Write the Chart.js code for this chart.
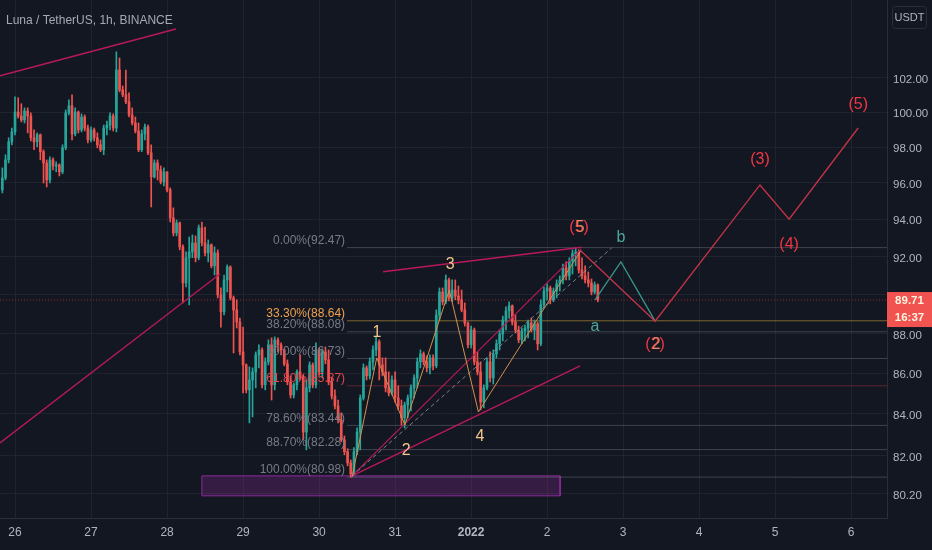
<!DOCTYPE html>
<html>
<head>
<meta charset="utf-8">
<script src="https://cdn.jsdelivr.net/npm/chart.js@4.4.0/dist/chart.umd.min.js"></script>
<style>
  html, body { margin: 0; background: #131722; }
  canvas { display: block; }
</style>
</head>
<body>
<canvas id="chart" width="932" height="550"></canvas>
<script>
// LUNA/USDT 1h candles, x = hours counted from 26 Dec 00:00
const FIRST_HOUR = -4;
const firstOpen = 95.61;

const closes = [
  96.27, 97.28, 98.30, 98.87, 100.01, 99.78, 99.55, 100.07, 99.78, 98.53,
  98.30, 98.70, 97.74, 97.11, 96.16, 97.28, 96.94, 97.00, 96.61, 97.96,
  99.96, 100.37, 98.75, 100.01, 98.98, 99.72, 99.09, 98.41, 98.98, 98.53,
  98.13, 97.85, 99.09, 99.26, 99.78, 99.09, 102.47, 101.30, 101.01, 100.60,
  99.84, 99.38, 98.92, 97.85, 98.75, 99.15, 97.68, 96.33, 97.11, 96.72,
  96.05, 96.61, 95.61, 94.07, 93.26, 93.80, 92.51, 90.60, 91.93, 92.24,
  92.72, 91.93, 93.53, 92.72, 92.19, 92.62, 91.50, 92.19, 89.98, 89.10,
  90.76, 91.44, 89.82, 89.20, 88.58, 87.06, 86.41, 85.17, 85.66, 86.06,
  86.91, 87.16, 85.42, 86.56, 87.42, 85.42, 87.67, 87.42, 87.16, 86.46,
  85.56, 84.92, 85.42, 86.06, 85.81, 83.12, 85.27, 86.41, 85.42, 87.16,
  86.06, 87.06, 86.66, 85.56, 84.87, 84.38, 83.71, 82.74, 82.18, 81.65,
  81.13, 82.18, 83.12, 84.77, 86.26, 85.86, 86.56, 87.16, 87.57, 86.41,
  86.06, 85.27, 85.02, 85.66, 84.77, 84.38, 83.81, 84.43, 84.77, 85.27,
  85.76, 86.56, 86.96, 86.56, 86.26, 86.76, 86.36, 88.94, 90.13, 89.62,
  90.76, 89.82, 90.23, 89.92, 89.72, 89.20, 88.53, 87.42, 88.17, 86.56,
  86.06, 84.57, 85.27, 86.56, 85.76, 86.96, 87.47, 87.97, 88.68, 89.15,
  89.41, 88.58, 88.17, 87.67, 88.12, 88.27, 88.53, 88.17, 88.48, 87.47,
  89.46, 90.18, 90.34, 89.72, 90.18, 90.55, 90.76, 91.39, 90.97, 91.76,
  92.14, 92.24, 91.28, 90.97, 90.76, 90.60, 90.13, 90.50, 89.71
];
const highs = [
  96.83, 97.57, 98.53, 99.09, 100.89, 100.84, 100.49, 100.25, 100.25, 99.96,
  98.98, 98.81, 98.75, 97.85, 97.28, 97.45, 97.39, 97.17, 97.06, 98.13,
  100.13, 100.72, 101.01, 100.25, 100.07, 99.90, 99.84, 99.26, 99.15, 99.09,
  98.81, 98.41, 99.26, 99.49, 99.96, 99.90, 103.55, 103.18, 101.53, 102.47,
  101.12, 100.25, 99.72, 99.38, 98.98, 99.32, 99.26, 98.13, 97.28, 97.28,
  96.94, 96.83, 96.61, 95.72, 94.62, 93.96, 93.85, 92.62, 92.24, 93.04,
  93.15, 93.10, 93.69, 93.85, 93.58, 92.88, 92.67, 92.51, 92.35, 90.34,
  91.02, 91.55, 91.50, 89.92, 89.72, 88.78, 88.32, 86.46, 86.31, 86.26,
  87.06, 87.42, 87.26, 86.76, 87.67, 87.77, 87.82, 87.77, 87.52, 87.21,
  86.66, 85.86, 85.51, 86.16, 86.91, 85.91, 85.66, 86.56, 86.51, 87.52,
  87.26, 87.21, 87.31, 87.16, 85.76, 85.17, 84.67, 84.05, 82.93, 82.32,
  81.79, 82.37, 83.32, 84.92, 86.46, 86.36, 86.76, 87.37, 87.82, 87.67,
  86.76, 86.76, 86.06, 85.86, 86.06, 85.37, 84.67, 84.57, 84.92, 85.42,
  85.91, 86.76, 87.16, 87.06, 86.86, 86.91, 86.91, 89.20, 90.34, 90.34,
  91.02, 90.86, 90.76, 90.76, 90.44, 90.23, 89.56, 88.58, 88.37, 88.27,
  87.06, 86.56, 85.42, 86.76, 87.06, 87.16, 87.67, 88.17, 88.88, 89.36,
  89.62, 89.46, 88.94, 88.37, 88.27, 88.42, 88.68, 88.78, 88.68, 88.58,
  89.72, 90.39, 90.55, 90.44, 90.34, 90.76, 90.97, 91.60, 91.71, 91.93,
  92.35, 92.47, 92.35, 91.93, 91.50, 91.18, 90.81, 90.65, 90.55
];
const lows = [
  95.44, 96.16, 97.11, 98.13, 98.70, 99.66, 99.44, 99.38, 98.81, 98.35,
  97.85, 98.02, 97.28, 95.99, 95.77, 95.99, 96.72, 96.61, 96.38, 96.50,
  97.85, 99.84, 98.41, 98.64, 98.81, 98.87, 98.92, 98.24, 98.30, 98.35,
  97.96, 97.74, 97.57, 98.70, 98.98, 98.92, 98.87, 101.18, 100.89, 100.49,
  99.72, 99.26, 98.81, 97.74, 97.74, 98.41, 97.57, 94.67, 96.27, 96.16,
  95.94, 95.83, 95.50, 93.85, 93.10, 93.10, 92.35, 89.56, 90.39, 89.46,
  91.93, 91.71, 91.82, 92.56, 92.03, 91.71, 91.39, 91.02, 89.82, 88.32,
  88.94, 90.13, 89.72, 87.01, 88.27, 86.91, 85.02, 85.02, 83.56, 83.85,
  85.27, 86.26, 85.27, 85.17, 86.41, 84.67, 85.17, 87.06, 86.91, 86.36,
  85.42, 84.77, 84.77, 85.17, 85.66, 82.74, 82.27, 85.07, 85.27, 85.27,
  85.91, 85.76, 86.46, 85.42, 84.72, 84.24, 83.56, 82.65, 82.04, 81.51,
  80.98, 81.04, 82.04, 82.27, 84.67, 85.66, 85.71, 86.16, 86.86, 85.66,
  85.86, 85.07, 84.87, 84.92, 84.57, 84.19, 83.46, 83.32, 83.81, 84.14,
  84.77, 85.27, 86.26, 86.41, 86.06, 85.96, 86.16, 86.26, 88.68, 89.46,
  89.51, 89.67, 89.62, 89.72, 89.51, 89.10, 88.37, 87.26, 87.26, 86.41,
  85.91, 84.19, 84.29, 85.17, 85.56, 85.46, 86.76, 87.16, 87.62, 88.17,
  88.78, 88.42, 88.02, 87.52, 87.47, 87.62, 87.77, 88.07, 87.67, 87.16,
  87.37, 89.30, 89.72, 89.51, 89.62, 89.82, 90.18, 90.55, 90.76, 90.76,
  91.07, 91.50, 91.12, 90.81, 90.60, 90.39, 89.98, 90.03, 89.62
];

// axes
const dayTicks = [0, 24, 48, 72, 96, 120, 144, 168, 192, 216, 240, 264];
const dayLabels = ['26', '27', '28', '29', '30', '31', '2022', '2', '3', '4', '5', '6'];
const priceTicks = [80.2, 82, 84, 86, 88, 90, 92, 94, 96, 98, 100, 102];
const lastPrice = 89.71;
const countdown = '16:37';

// fib retracement
const fibPcts = [0, 33.3, 38.2, 50, 61.8, 78.6, 88.7, 100];
const fibPrices = [92.47, 88.64, 88.08, 86.73, 85.37, 83.44, 82.28, 80.98];
const fibStartHour = 104.8;

// drawings (hour, price)
const waveHours = [106.4, 114.2, 123.1, 137.1, 146.3, 178.6];
const wavePrices = [80.98, 86.76, 83.46, 90.23, 84.09, 92.30];
const projHours = [178.6, 202.1, 235.2, 244.4, 266.2];
const projPrices = [92.30, 88.62, 95.88, 94.00, 99.09];
const abcHours = [183.1, 191.3, 202.1];
const abcPrices = [89.72, 91.71, 88.62];
const boxHours = [59.0, 172.1];
const boxPrices = [80.11, 81.04];

const waveLabels = [
  { text: '1', h: 114.3, p: 88.02, color: '#f2c58c' },
  { text: '2', h: 123.5, p: 82.22, color: '#f2c58c' },
  { text: '3', h: 137.4, p: 91.55, color: '#f2c58c' },
  { text: '4', h: 146.8, p: 82.88, color: '#f2c58c' },
  { text: '(5)', h: 178.1, p: 93.53, color: '#f23645', inner: '5' },
  { text: '(2)', h: 202.1, p: 87.41, color: '#f23645', inner: '2' },
  { text: '(3)', h: 235.2, p: 97.28, color: '#f23645' },
  { text: '(4)', h: 244.4, p: 92.62, color: '#f23645' },
  { text: '(5)', h: 266.2, p: 100.42, color: '#f23645' },
  { text: 'a', h: 183.1, p: 88.32, color: '#4ea69b' },
  { text: 'b', h: 191.3, p: 92.99, color: '#4ea69b' }
];

const X_MIN = -4.74, X_MAX = 275.3;
const Y_MIN = 79.09, Y_MAX = 106.70;
const UP = '#26a69a', DOWN = '#ef5350';
const FONT = "'Liberation Sans', Arial, sans-serif";

const hours = closes.map((_, i) => FIRST_HOUR + i);
const opens = closes.map((c, i) => i === 0 ? firstOpen : closes[i - 1]);
const candleColor = i => closes[i] >= opens[i] ? UP : DOWN;

function pts(hs, ps) { return hs.map((h, i) => ({ x: h, y: ps[i] })); }

function line(hs, ps, color, extra) {
  return Object.assign({
    type: 'line', data: pts(hs, ps), borderColor: color, borderWidth: 1,
    pointRadius: 0, fill: false, tension: 0, order: 1
  }, extra || {});
}

const fibColor = p => p === 33.3 ? 'rgba(212,170,60,0.55)' : p === 61.8 ? 'rgba(200,60,70,0.4)' : 'rgba(120,123,134,0.45)';
const fibTextColor = p => p === 33.3 ? '#f0a150' : p === 61.8 ? '#e5484f' : '#787b86';

const datasets = [
  // elliott waves and projections (on top)
  line(waveHours, wavePrices, '#d3904f'),
  line(projHours, projPrices, '#c8344a', { borderWidth: 1.3 }),
  line(abcHours, abcPrices, '#3a968a', { borderWidth: 1.3 }),
  line([waveHours[0], 188.4], [81.04, 92.46], 'rgba(149,152,161,0.8)', { borderDash: [4, 3] }),
  // trend lines
  line([-4.74, 50.8], [102.12, 104.93], '#b8195a', { borderWidth: 1.5 }),
  line([-4.74, 64.7], [82.60, 91.07], '#b8195a', { borderWidth: 1.3 }),
  line([116.2, 178.9], [91.19, 92.49], '#b8195a', { borderWidth: 1.5 }),
  line([106.4, 178.8], [81.04, 92.40], '#b8195a', { borderWidth: 1.2 }),
  line([106.4, 178.4], [81.04, 86.36], '#b8195a', { borderWidth: 1.5 }),
  // zone box
  line([boxHours[0], boxHours[1], boxHours[1], boxHours[0], boxHours[0]],
       [boxPrices[1], boxPrices[1], boxPrices[0], boxPrices[0], boxPrices[1]],
       '#8e2a9c', { order: 20 }),
  line(boxHours, [boxPrices[1], boxPrices[1]], 'rgba(0,0,0,0)',
       { fill: { value: boxPrices[0] }, backgroundColor: 'rgba(142,42,156,0.28)', order: 21 }),
  // last price line
  line([X_MIN, X_MAX], [lastPrice, lastPrice], 'rgba(242,54,69,0.55)', { borderDash: [1, 2], order: 12 }),
  // candles
  {
    type: 'bar', data: hours.map((h, i) => ({ x: h, y: [opens[i], closes[i]] })),
    backgroundColor: hours.map((_, i) => candleColor(i)),
    barThickness: 2, grouped: false, minBarLength: 1, order: 5
  },
  {
    type: 'bar', data: hours.map((h, i) => ({ x: h, y: [lows[i], highs[i]] })),
    backgroundColor: hours.map((_, i) => candleColor(i)),
    barThickness: 1, grouped: false, order: 6
  }
];

fibPcts.forEach((p, i) => {
  datasets.push(line([fibStartHour, X_MAX], [fibPrices[i], fibPrices[i]], fibColor(p), { order: 15 }));
});

const overlay = {
  id: 'overlay',
  afterDatasetsDraw(chart) {
    const { ctx, scales: { x, y } } = chart;
    ctx.save();
    ctx.textBaseline = 'middle';

    // fib labels
    ctx.font = '12px ' + FONT;
    ctx.textAlign = 'right';
    const lx = x.getPixelForValue(104.2);
    fibPcts.forEach((p, i) => {
      ctx.fillStyle = fibTextColor(p);
      ctx.fillText(p.toFixed(2) + '%(' + fibPrices[i].toFixed(2) + ')', lx, y.getPixelForValue(fibPrices[i]) - 7);
    });

    // wave labels
    ctx.textAlign = 'center';
    ctx.font = '16px ' + FONT;
    waveLabels.forEach(l => {
      const px = x.getPixelForValue(l.h), py = y.getPixelForValue(l.p);
      ctx.fillStyle = l.color;
      ctx.fillText(l.text, px, py);
      if (l.inner) {
        ctx.fillStyle = 'rgba(242,160,110,0.75)';
        ctx.fillText(l.inner, px + 1, py);
      }
    });
    ctx.restore();
  },
  afterDraw(chart) {
    const { ctx, scales: { y }, chartArea } = chart;
    ctx.save();
    ctx.textBaseline = 'middle';

    // title
    ctx.font = '12px ' + FONT;
    ctx.fillStyle = '#a6a9b2';
    ctx.textAlign = 'left';
    ctx.fillText('Luna / TetherUS, 1h, BINANCE', 6, 21);

    // currency badge
    ctx.strokeStyle = '#2a2e39';
    ctx.lineWidth = 1;
    ctx.beginPath();
    ctx.roundRect(892.5, 6.5, 34, 22, 3);
    ctx.stroke();
    ctx.fillStyle = '#b2b5be';
    ctx.textAlign = 'center';
    ctx.font = '11px ' + FONT;
    ctx.fillText('USDT', 909.5, 18);

    // last price badge
    const py = y.getPixelForValue(lastPrice);
    ctx.fillStyle = '#f05350';
    ctx.fillRect(chartArea.right, py - 8, 932 - chartArea.right, 35);
    ctx.fillStyle = '#fff4e0';
    ctx.font = 'bold 11.5px ' + FONT;
    ctx.fillText(lastPrice.toFixed(2), 909.5, py + 1);
    ctx.fillText(countdown, 909.5, py + 18);
    ctx.restore();
  }
};

Chart.defaults.font.family = FONT;

new Chart(document.getElementById('chart'), {
  type: 'bar',
  data: { datasets },
  options: {
    responsive: false,
    devicePixelRatio: 1,
    animation: false,
    layout: { padding: 0 },
    plugins: { legend: { display: false }, tooltip: { enabled: false } },
    scales: {
      x: {
        type: 'linear', min: X_MIN, max: X_MAX, offset: false,
        grid: { color: 'rgba(42,46,57,0.55)', drawTicks: false, offset: false },
        border: { color: '#2a2e39' },
        afterBuildTicks: s => { s.ticks = dayTicks.map(v => ({ value: v })); },
        afterFit: s => { s.height = 32; s.paddingLeft = 0; s.paddingRight = 0; },
        ticks: {
          autoSkip: false, maxRotation: 0, padding: 7, color: '#b2b5be',
          font: c => ({ size: 12, weight: c.tick && c.tick.value === 144 ? 'bold' : 'normal' }),
          callback: v => dayLabels[dayTicks.indexOf(v)] || ''
        }
      },
      y: {
        type: 'logarithmic', position: 'right', min: Y_MIN, max: Y_MAX,
        grid: { color: 'rgba(42,46,57,0.55)', drawTicks: false },
        border: { color: '#2a2e39' },
        afterBuildTicks: s => { s.ticks = priceTicks.map(v => ({ value: v })); },
        afterFit: s => { s.width = 45; s.paddingTop = 0; s.paddingBottom = 0; },
        ticks: {
          autoSkip: false, padding: 6, labelOffset: 2, color: '#b2b5be', font: { size: 11.5 },
          callback: v => Number(v).toFixed(2)
        }
      }
    }
  },
  plugins: [overlay]
});
</script>
</body>
</html>
